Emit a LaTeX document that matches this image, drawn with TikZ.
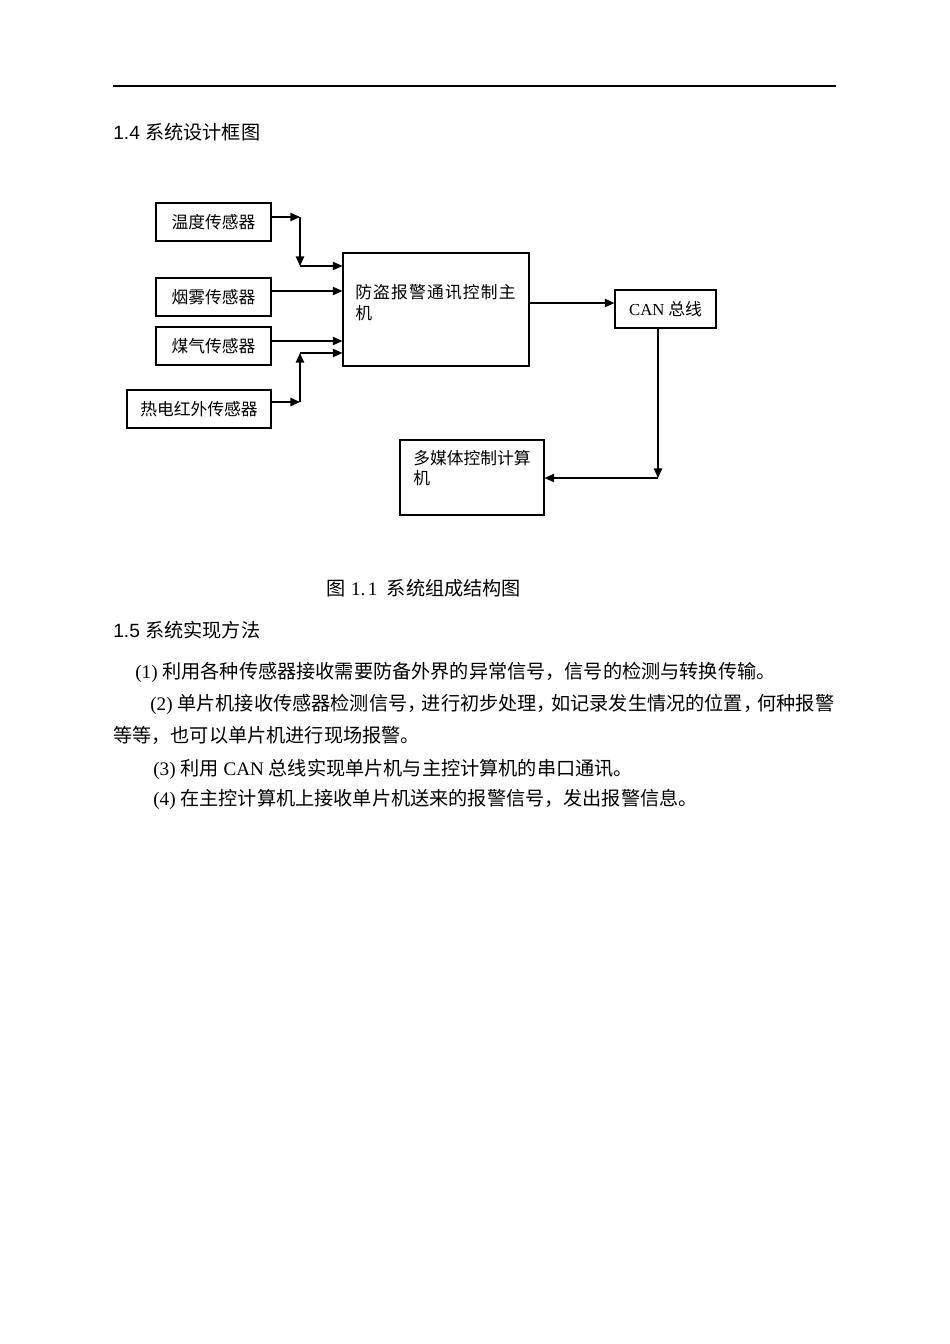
\documentclass[tikz,border=0pt]{standalone}
\usepackage{fontspec}
\setmainfont{Liberation Serif}
\newfontfamily\cjk{Noto Sans CJK SC}
\newfontfamily\cjkwide{Noto Sans CJK SC}[LetterSpace=7]
\newfontfamily\arialf{Liberation Sans}
\usetikzlibrary{arrows.meta}
\newcommand\zh[1]{{\cjk #1}}
\newcommand\nc{\makebox[0.76em][l]{\cjk ，}}
\begin{document}
\begin{tikzpicture}[x=0.6263pt,y=-0.6263pt,
  box/.style={draw, line width=0.7pt, inner sep=0pt, font=\fontsize{10.5}{12.6}\selectfont\cjk},
  arr/.style={line width=0.8pt, -{Triangle[length=6pt,width=5.2pt]}},
  body/.style={anchor=base west, inner sep=0pt, font=\fontsize{12}{14}\selectfont},
  head/.style={anchor=base west, inner sep=0pt, font=\fontsize{12}{14}\selectfont\arialf},
  boxtxt/.style={anchor=base west, inner sep=0pt}]
\useasboundingbox (0,0) rectangle (950,1344);
\fill[white] (0,0) rectangle (950,1344);

% top rule and heading
\coordinate (ruleL) at (113,86);
\coordinate (ruleR) at (836,86);
\draw[line width=0.75pt] (ruleL) -- (ruleR);
\node[head] (h14) at (113,139) {1.4 {\cjk 系统设计框图}};

% boxes
\node[box, minimum width=72.0pt, minimum height=23.8pt] (wendu) at (213.5,222) {温度传感器};
\node[box, minimum width=72.0pt, minimum height=23.8pt] (yanwu) at (213.5,297) {烟雾传感器};
\node[box, minimum width=72.0pt, minimum height=23.8pt] (meiqi) at (213.5,346) {煤气传感器};
\node[box, minimum width=90.2pt, minimum height=23.8pt] (redian) at (199,409) {热电红外传感器};
\node[box, minimum width=116.5pt, minimum height=70.8pt] (main) at (436,309.5) {};
\node[box, minimum width=63.3pt, minimum height=23.8pt] (can) at (665.5,309) {{\rmfamily CAN} 总线};
\node[box, minimum width=90.2pt, minimum height=47.0pt] (pc) at (472,477.5) {};

\node[boxtxt, font=\fontsize{10.5}{12.6}\selectfont\cjkwide] (mainA) at (355,298.5) {防盗报警通讯控制主};
\node[boxtxt, font=\fontsize{10.5}{12.6}\selectfont\cjkwide] (mainB) at (355,319.5) {机};
\node[boxtxt, font=\fontsize{10.5}{12.6}\selectfont\cjk] (pcA) at (413,464.5) {多媒体控制计算};
\node[boxtxt, font=\fontsize{10.5}{12.6}\selectfont\cjk] (pcB) at (413,484.5) {机};

% connector coordinates
\coordinate (c1a) at (300,217);
\coordinate (c1b) at (300,266);
\coordinate (r2) at (300,291);
\coordinate (r3) at (300,341);
\coordinate (c4a) at (300,402);
\coordinate (c4b) at (300,353);
\coordinate (rm) at (560,303);
\coordinate (c5) at (658,478);

\draw[arr] (wendu.east |- c1a) -- (c1a);
\draw[arr] (c1a) -- (c1b);
\draw[arr] (c1b) -- (main.west |- c1b);
\draw[arr] (yanwu.east |- r2) -- (main.west |- r2);
\draw[arr] (meiqi.east |- r3) -- (main.west |- r3);
\draw[arr] (redian.east |- c4a) -- (c4a);
\draw[arr] (c4a) -- (c4b);
\draw[arr] (c4b) -- (main.west |- c4b);
\draw[arr] (main.east |- rm) -- (can.west |- rm);
\draw[arr] (can.south -| c5) -- (c5);
\draw[arr] (c5) -- (pc.east |- c5);

% caption
\node[body] (cap) at (326,595) {\zh{图}\hspace{3.5pt}1.\hspace{1.5pt}1\hspace{6pt}\zh{系统组成结构图}};

% section 1.5
\node[head] (h15) at (113,637) {1.5 {\cjk 系统实现方法}};
\node[body] (l1) at (135,678) {(1) \zh{利用各种传感器接收需要防备外界的异常信号，信号的检测与转换传输。}};
\node[body] (l2) at (150,710) {(2) \zh{单片机接收传感器检测信号}\nc\zh{进行初步处理}\nc\zh{如记录发生情况的位置}\nc\zh{何种报警}};
\node[body] (l3) at (113,742) {\zh{等等，也可以单片机进行现场报警。}};
\node[body] (l4) at (153,775) {(3) \zh{利用} CAN \zh{总线实现单片机与主控计算机的串口通讯。}};
\node[body] (l5) at (153,805) {(4) \zh{在主控计算机上接收单片机送来的报警信号，发出报警信息。}};
\end{tikzpicture}
\end{document}
